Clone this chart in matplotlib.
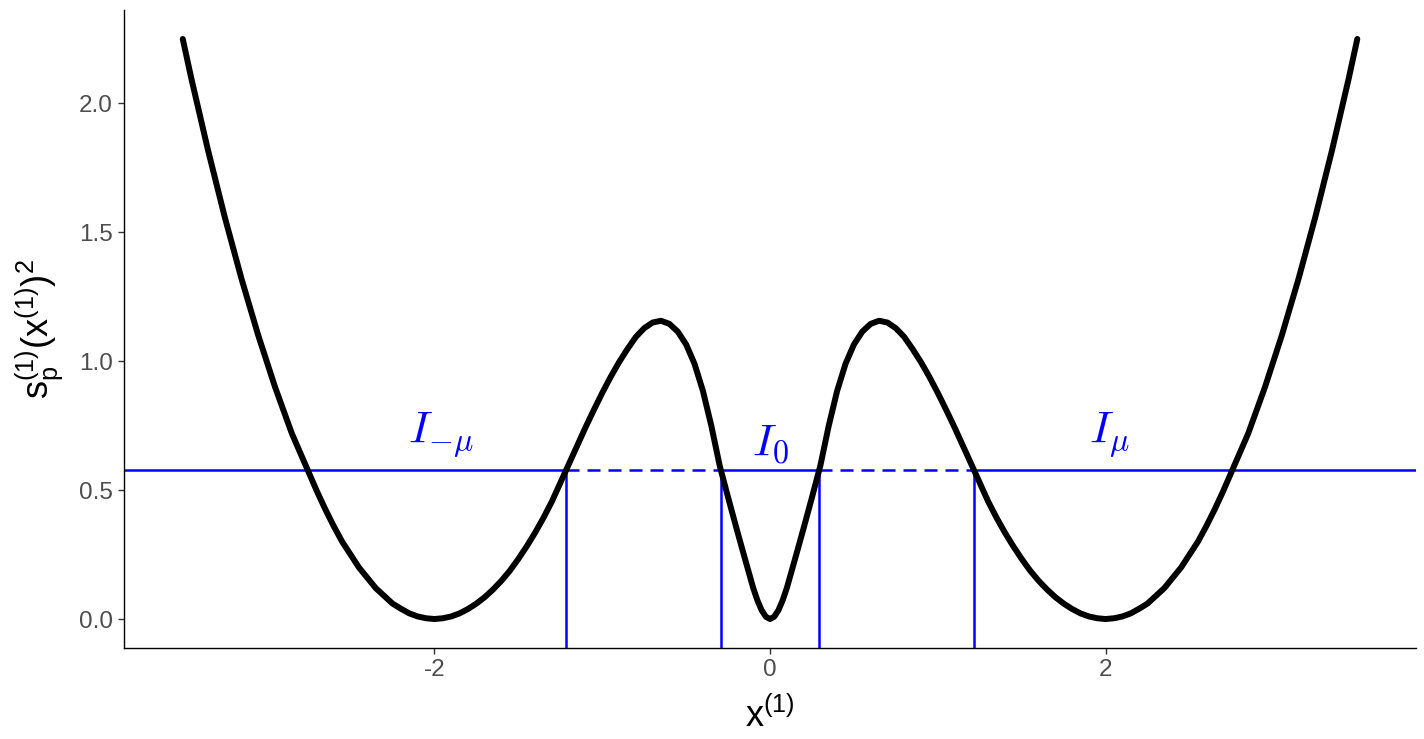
#!/usr/bin/env python3
"""
plot.py - squared score curve with the three intervals below a threshold
"""

import matplotlib
matplotlib.use("Agg")
import matplotlib.pyplot as plt

# curve values (left half, then right half)
x_left = [-3.5, -3.45, -3.4, -3.35, -3.3, -3.25, -3.2, -3.15, -3.1, -3.05,
          -3.0, -2.95, -2.9, -2.85, -2.8, -2.75, -2.7, -2.65, -2.6, -2.55,
          -2.5, -2.45, -2.4, -2.35, -2.3, -2.25, -2.2, -2.15, -2.1, -2.05,
          -2.0, -1.95, -1.9, -1.85, -1.8, -1.75, -1.7, -1.65, -1.6, -1.55,
          -1.5, -1.45, -1.4, -1.35, -1.3, -1.25, -1.2, -1.15, -1.1, -1.05,
          -1.0, -0.95, -0.9, -0.85, -0.8, -0.75, -0.7, -0.65, -0.6, -0.55,
          -0.5, -0.45, -0.4, -0.35, -0.3, -0.25, -0.2, -0.15, -0.1, -0.075,
          -0.05, -0.025, 0.0]
y_left = [2.25, 2.10, 1.96, 1.82, 1.69, 1.56, 1.44, 1.32, 1.21, 1.10,
          1.00, 0.90, 0.81, 0.72, 0.645, 0.57, 0.495, 0.425, 0.36, 0.30,
          0.25, 0.20, 0.16, 0.12, 0.09, 0.06, 0.04, 0.022, 0.01, 0.003,
          0.0, 0.003, 0.01, 0.022, 0.039, 0.060, 0.085, 0.115, 0.149, 0.188,
          0.233, 0.282, 0.335, 0.393, 0.456, 0.528, 0.600, 0.672, 0.743, 0.811,
          0.877, 0.939, 0.996, 1.047, 1.094, 1.128, 1.150, 1.157, 1.145, 1.115,
          1.065, 0.99, 0.885, 0.75, 0.595, 0.472, 0.352, 0.235, 0.12, 0.072,
          0.034, 0.009, 0.0]

x_right = [0.025, 0.05, 0.075, 0.1, 0.15, 0.2, 0.25, 0.3, 0.35, 0.4, 0.45,
           0.5, 0.55, 0.6, 0.65, 0.7, 0.75, 0.8, 0.85, 0.9, 0.95,
           1.0, 1.05, 1.1, 1.15, 1.2, 1.25, 1.3, 1.35, 1.4, 1.45,
           1.5, 1.55, 1.6, 1.65, 1.7, 1.75, 1.8, 1.85, 1.9, 1.95,
           2.0, 2.05, 2.1, 2.15, 2.2, 2.25, 2.3, 2.35, 2.4, 2.45,
           2.5, 2.55, 2.6, 2.65, 2.7, 2.75, 2.8, 2.85, 2.9, 2.95,
           3.0, 3.05, 3.1, 3.15, 3.2, 3.25, 3.3, 3.35, 3.4, 3.45, 3.5]
y_right = [0.009, 0.034, 0.072, 0.12, 0.235, 0.352, 0.472, 0.595, 0.75, 0.885, 0.99,
           1.065, 1.115, 1.145, 1.157, 1.150, 1.128, 1.094, 1.047, 0.996, 0.939,
           0.877, 0.811, 0.743, 0.672, 0.600, 0.528, 0.456, 0.393, 0.335, 0.282,
           0.233, 0.188, 0.149, 0.115, 0.085, 0.060, 0.039, 0.022, 0.01, 0.003,
           0.0, 0.003, 0.01, 0.022, 0.04, 0.06, 0.09, 0.12, 0.16, 0.20,
           0.25, 0.30, 0.36, 0.425, 0.495, 0.57, 0.645, 0.72, 0.81, 0.90,
           1.00, 1.10, 1.21, 1.32, 1.44, 1.56, 1.69, 1.82, 1.96, 2.10, 2.25]

threshold = 0.577
cut_points = [-1.216, -0.294, 0.294, 1.216]
interval_labels = [r"$I_{-\mu}$", r"$I_0$", r"$I_\mu$"]
label_x = [-1.96, 0.0, 2.02]
label_y = [0.681, 0.634, 0.681]

x_ticks = [-2, 0, 2]
y_ticks = [0.0, 0.5, 1.0, 1.5, 2.0]

BLUE = "#0000FF"


def main():
    assert len(x_left) == len(y_left) and len(x_right) == len(y_right)
    x_vals = x_left + x_right
    y_vals = y_left + y_right

    plt.rcParams["font.family"] = ["Liberation Sans", "DejaVu Sans"]
    plt.rcParams["mathtext.fontset"] = "cm"

    fig = plt.figure(figsize=(14.24, 7.39), dpi=100)
    ax = fig.add_axes([0.0871, 0.1231, 0.9073, 0.8634])

    xmin, xmax = -3.85, 3.85
    ymin, ymax = -0.1125, 2.3625
    dash = (0, (5.2, 3.2))

    # threshold line: solid outside, dashed where the curve is above it
    ax.plot([xmin, cut_points[0]], [threshold, threshold], color=BLUE, lw=1.8)
    ax.plot([cut_points[1], cut_points[2]], [threshold, threshold], color=BLUE, lw=1.8)
    ax.plot([cut_points[3], xmax], [threshold, threshold], color=BLUE, lw=1.8)
    ax.plot([cut_points[0], cut_points[1]], [threshold, threshold], color=BLUE,
            lw=1.8, linestyle=dash)
    ax.plot([cut_points[2], cut_points[3]], [threshold, threshold], color=BLUE,
            lw=1.8, linestyle=dash)
    for cp in cut_points:
        ax.plot([cp, cp], [ymin, threshold], color=BLUE, lw=1.8)

    ax.plot(x_vals, y_vals, color="black", lw=4.3, solid_capstyle="round",
            solid_joinstyle="round", zorder=3)

    for lab, lx, ly in zip(interval_labels, label_x, label_y):
        ax.text(lx, ly, lab, color=BLUE, fontsize=33, ha="center", va="baseline")

    ax.set_xlim(xmin, xmax)
    ax.set_ylim(ymin, ymax)
    ax.set_xticks(x_ticks)
    ax.set_xticklabels([str(t) for t in x_ticks])
    ax.set_yticks(y_ticks)
    ax.set_yticklabels([f"{t:.1f}" for t in y_ticks])

    ax.spines["top"].set_visible(False)
    ax.spines["right"].set_visible(False)
    for side in ["left", "bottom"]:
        ax.spines[side].set_linewidth(1.0)
        ax.spines[side].set_color("black")
    ax.tick_params(axis="both", length=4, width=1.0, color="#333333",
                   labelcolor="#4D4D4D", labelsize=17.5, pad=4)

    ax.set_xlabel(r"$\mathregular{x^{(1)}}$", fontsize=26, labelpad=12)
    ax.set_ylabel(r"$\mathregular{s_p^{(1)}(x^{(1)})^2}$", fontsize=26, labelpad=10)

    fig.savefig("out.png", dpi=100)


if __name__ == "__main__":
    main()
